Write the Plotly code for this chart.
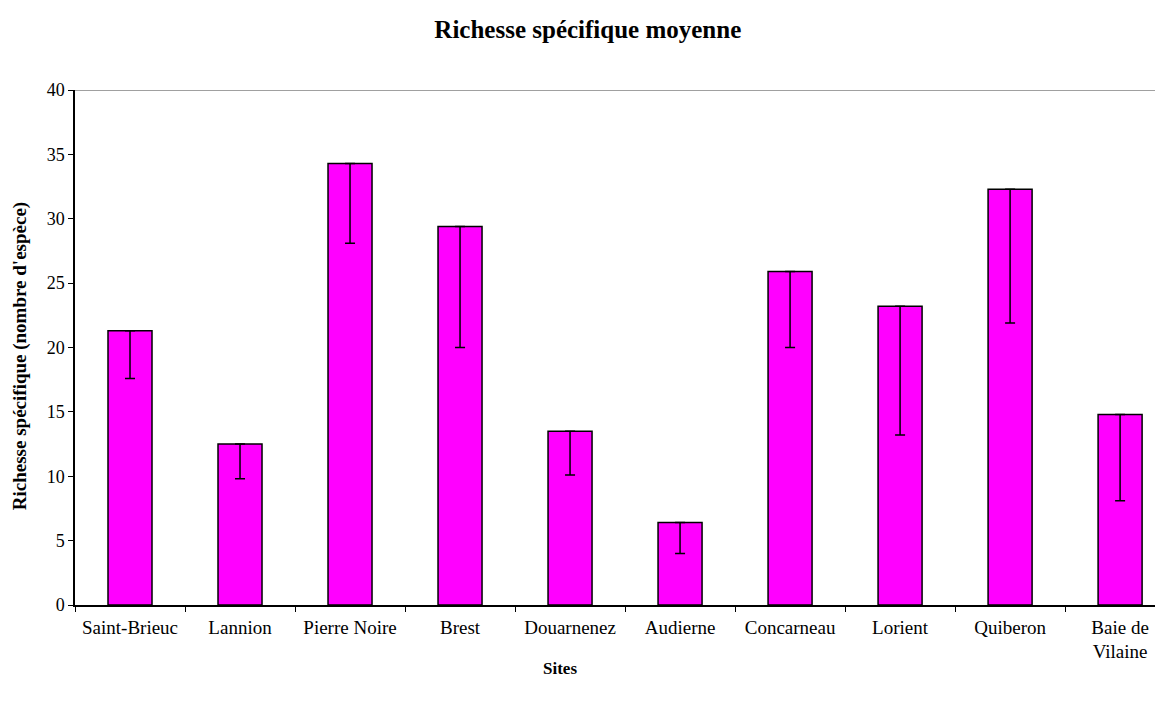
import plotly.graph_objects as go

sites = ['Saint-Brieuc', 'Lannion', 'Pierre Noire', 'Brest', 'Douarnenez',
         'Audierne', 'Concarneau', 'Lorient', 'Quiberon', 'Baie de<br>Vilaine']
richesse = [21.3, 12.5, 34.3, 29.4, 13.5, 6.4, 25.9, 23.2, 32.3, 14.8]
borne_basse = [17.6, 9.8, 28.1, 20.0, 10.1, 4.0, 20.0, 13.2, 21.9, 8.1]

erreur_moins = [r - b for r, b in zip(richesse, borne_basse)]
erreur_plus = [0] * len(richesse)

font_serif = 'Liberation Serif, Times New Roman, serif'

fig = go.Figure()

fig.add_trace(go.Bar(
    x=sites,
    y=richesse,
    width=0.4,
    marker=dict(color='#FF00FF', line=dict(color='black', width=1.5)),
    error_y=dict(
        type='data',
        symmetric=False,
        array=erreur_plus,
        arrayminus=erreur_moins,
        color='black',
        thickness=1.5,
        width=5
    ),
    showlegend=False
))

# bordure haute grise du cadre
fig.add_shape(type='line', xref='paper', yref='y', x0=0, x1=1, y0=40, y1=40,
              line=dict(color='#808080', width=1.5))

# titres des axes
fig.add_annotation(text='<b>Sites</b>', xref='paper', yref='paper',
                   x=0.446, y=-0.124, showarrow=False,
                   xanchor='center', yanchor='middle', font=dict(size=17))
fig.add_annotation(text="<b>Richesse spécifique (nombre d'espèce)</b>", xref='paper', yref='paper',
                   x=-0.0506, y=0.483, showarrow=False, textangle=-90,
                   xanchor='center', yanchor='middle', font=dict(size=19))

fig.update_layout(
    width=1155,
    height=694,
    margin=dict(l=67, r=0, t=82, b=97),
    paper_bgcolor='white',
    plot_bgcolor='white',
    font=dict(family=font_serif, color='black', size=16),
    title=dict(
        text='<b>Richesse spécifique moyenne</b>',
        x=0.502, xanchor='center',
        y=0.970, yanchor='middle',
        font=dict(size=25)
    ),
    xaxis=dict(
        range=[-0.5, 9.39],
        showline=True, linecolor='black', linewidth=1.5,
        ticks='outside', tickson='boundaries', ticklen=5, tickcolor='black',
        tickfont=dict(size=19),
        ticklabelstandoff=4,
        showgrid=False,
        tickangle=0
    ),
    yaxis=dict(
        range=[0, 40],
        dtick=5,
        showline=True, linecolor='black', linewidth=1.5,
        ticks='outside', ticklen=5, tickcolor='black',
        tickfont=dict(size=18),
        showgrid=False,
        zeroline=False
    ),
    bargap=0.6
)

fig.write_html("out.html")
